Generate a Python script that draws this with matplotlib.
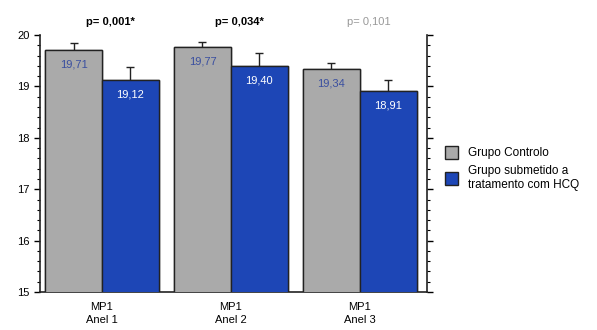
import matplotlib
matplotlib.use("Agg")
import matplotlib.pyplot as plt
import numpy as np
from matplotlib.ticker import MultipleLocator
from matplotlib.patches import Patch

plt.rcParams["font.family"] = ["Liberation Sans", "DejaVu Sans"]

categories = ["MP1\nAnel 1", "MP1\nAnel 2", "MP1\nAnel 3"]
controlo = [19.71, 19.77, 19.34]
controlo_err = [0.14, 0.10, 0.12]
hcq = [19.12, 19.40, 18.91]
hcq_err = [0.25, 0.25, 0.21]
p_labels = ["p= 0,001*", "p= 0,034*", "p= 0,101"]
series_names = ["Grupo Controlo", "Grupo submetido a\ntratamento com HCQ"]

gray = "#aaaaaa"
blue = "#1d46b6"

fig = plt.figure(figsize=(5.97, 3.30), dpi=100)
ax = fig.add_axes([0.067, 0.115, 0.648, 0.779])
x = np.arange(len(categories))
w = 0.44
ax.bar(x - w/2, controlo, w, color=gray, edgecolor="#222222", linewidth=1.0,
       yerr=controlo_err, error_kw=dict(ecolor="#222222", capsize=3, elinewidth=1))
ax.bar(x + w/2, hcq, w, color=blue, edgecolor="#222222", linewidth=1.0,
       yerr=hcq_err, error_kw=dict(ecolor="#222222", capsize=3, elinewidth=1))
# cover lower half of error bars
ax.bar(x - w/2, controlo, w, color=gray, edgecolor="#222222", linewidth=1.0, zorder=3)
ax.bar(x + w/2, hcq, w, color=blue, edgecolor="#222222", linewidth=1.0, zorder=3)

for i in range(len(categories)):
    ax.text(x[i] - w/2, controlo[i] - 0.28, f"{controlo[i]:.2f}".replace(".", ","),
            ha="center", va="center", fontsize=8, color="#3a4fa0", zorder=4)
    ax.text(x[i] + w/2, hcq[i] - 0.28, f"{hcq[i]:.2f}".replace(".", ","),
            ha="center", va="center", fontsize=8, color="white", zorder=4)
    bold = p_labels[i].endswith("*")
    ax.text(x[i] + 0.07, 20.26, p_labels[i], ha="center", va="center", fontsize=8,
            fontweight="bold" if bold else "normal",
            color="black" if bold else "#999999", clip_on=False)

ax.set_ylim(15, 20)
ax.set_xlim(-0.48, 2.52)
ax.set_xticks(x)
ax.set_xticklabels(categories, fontsize=8, linespacing=1.4)
ax.tick_params(axis="x", length=0, pad=7)
ax.yaxis.set_major_locator(MultipleLocator(1))
ax.yaxis.set_minor_locator(MultipleLocator(0.2))
ax.tick_params(axis="y", which="both", direction="out", labelsize=8, right=True, left=True)
ax.tick_params(axis="y", which="major", length=4, width=1)
ax.tick_params(axis="y", which="minor", length=2, width=0.8)
ax.spines["top"].set_visible(False)
for s in ["left", "right", "bottom"]:
    ax.spines[s].set_linewidth(1.2)
    ax.spines[s].set_color("#222222")

handles = [Patch(facecolor=gray, edgecolor="#222222", label=series_names[0]),
           Patch(facecolor=blue, edgecolor="#222222", label=series_names[1])]
fig.legend(handles=handles, loc="center left", bbox_to_anchor=(0.728, 0.49), frameon=False,
           fontsize=8.5, handlelength=1.1, handleheight=1.3, handletextpad=0.8, labelspacing=0.5)

fig.savefig("out.png", dpi=100)
